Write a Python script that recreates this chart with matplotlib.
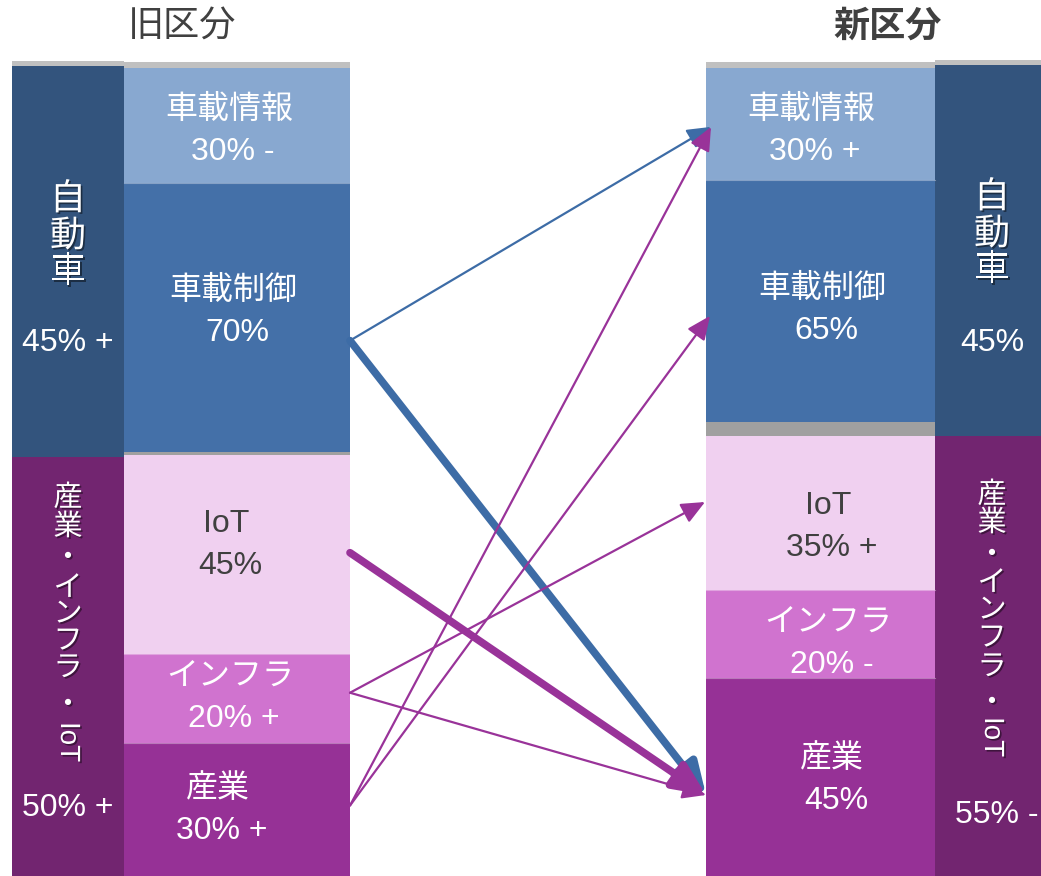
import matplotlib.pyplot as plt
import matplotlib.patheffects as pe

plt.rcParams['font.family'] = ['Liberation Sans', 'Noto Sans CJK JP', 'DejaVu Sans']

# data
old_auto = ['車載情報', '車載制御']
old_auto_val = [30, 70]
old_auto_txt = ['30% -', '70%']
old_ind = ['IoT', 'インフラ', '産業']
old_ind_val = [45, 20, 30]
old_ind_txt = ['45%', '20% +', '30% +']

new_auto = ['車載情報', '車載制御']
new_auto_val = [30, 65]
new_auto_txt = ['30% +', '65%']
new_ind = ['IoT', 'インフラ', '産業']
new_ind_val = [35, 20, 45]
new_ind_txt = ['35% +', '20% -', '45%']

outer_old_txt = ['45% +', '50% +']
outer_new_txt = ['45%', '55% -']

# flows: (from old, to new, thick?)
flow_from = ['車載制御', '車載制御', 'IoT', 'インフラ', 'インフラ', '産業', '産業']
flow_to = ['車載情報', '産業', '産業', 'IoT', '産業', '車載情報', '車載制御']
flow_thick = [False, True, True, False, False, False, False]

# colours
c_outer_auto = '#33547D'
c_outer_ind = '#722570'
c_inner = {'車載情報': '#88A8D0', '車載制御': '#4470A8', 'IoT': '#F0D0F0',
           'インフラ': '#D073CF', '産業': '#963196'}
c_txt = {'IoT': '#404040'}
c_blue = '#3D6CA6'
c_purple = '#993399'

fig = plt.figure(figsize=(10.41, 8.76), dpi=100)
ax = fig.add_axes([0, 0, 1, 1])
ax.set_xlim(0, 1041)
ax.set_ylim(876, 0)
ax.axis('off')


def stack(names, vals, x0, x1, y0, y1):
    tot = sum(vals)
    out = {}
    y = y0
    for n, v in zip(names, vals):
        h = (y1 - y0) * v / tot
        ax.bar(x0, h, width=x1 - x0, bottom=y, align='edge', color=c_inner[n], linewidth=0)
        if y > y0:
            ax.plot([x0, x1], [y, y], color='white', alpha=0.35, lw=0.8)
        out[n] = (y, y + h)
        y += h
    return out


# old side
ax.bar(12, 5, width=112, bottom=61, align='edge', color='#C0C0C0')
ax.bar(124, 6, width=226, bottom=62, align='edge', color='#C0C0C0')
ax.bar(12, 457 - 66, width=112, bottom=66, align='edge', color=c_outer_auto)
ax.bar(12, 876 - 457, width=112, bottom=457, align='edge', color=c_outer_ind)
ax.bar(124, 3, width=226, bottom=452, align='edge', color='#A0A0A0')
old_pos = stack(old_auto, old_auto_val, 124, 350, 68, 452)
old_pos.update(stack(old_ind, old_ind_val, 124, 350, 455, 876))

# new side
ax.bar(935, 5, width=106, bottom=60, align='edge', color='#C0C0C0')
ax.bar(706, 6, width=229, bottom=62, align='edge', color='#C0C0C0')
ax.bar(935, 436 - 65, width=106, bottom=65, align='edge', color=c_outer_auto)
ax.bar(935, 876 - 436, width=106, bottom=436, align='edge', color=c_outer_ind)
ax.bar(706, 14, width=229, bottom=422, align='edge', color='#A0A0A0')
new_pos = stack(new_auto, new_auto_val, 706, 935, 68, 422)
new_pos.update(stack(new_ind, new_ind_val, 706, 935, 436, 876))

# inner labels (dx, dy nudges from block centre)
old_nudge = {'車載情報': (-1, 5), '車載制御': (3, -6), 'IoT': (-4, -10),
             'インフラ': (0, -1), '産業': (-12, 0)}
new_nudge = {'車載情報': (-7, 7), '車載制御': (4, 9), 'IoT': (10, 14),
             'インフラ': (10, 10), '産業': (14, 3)}
for pos, names, txts, xc, nudge in [
        (old_pos, old_auto + old_ind, old_auto_txt + old_ind_txt, 232, old_nudge),
        (new_pos, new_auto + new_ind, new_auto_txt + new_ind_txt, 820, new_nudge)]:
    for n, t in zip(names, txts):
        dx, dy = nudge[n]
        yc = sum(pos[n]) / 2 + dy
        col = c_txt.get(n, 'white')
        ax.text(xc + dx - 2, yc - 21, n, ha='center', va='center', fontsize=23, color=col)
        ax.text(xc + dx + 2, yc + 21, t, ha='center', va='center', fontsize=23, color=col)

# titles
ax.text(182, 27, '旧区分', ha='center', va='center', fontsize=26, color='#404040')
ax.text(888, 27, '新区分', ha='center', va='center', fontsize=26, color='#404040',
        fontweight='bold')

shadow = [pe.SimplePatchShadow(offset=(1.2, -1.2), shadow_rgbFace='black', alpha=0.45), pe.Normal()]


# vertical outer labels
def vlabel(x, ys, chars, size):
    for y, ch in zip(ys, chars):
        ax.text(x, y, ch, ha='center', va='center', fontsize=size, color='white',
                path_effects=shadow)


vlabel(68, [200, 237, 273], '自動車', 26)
vlabel(992, [198, 235, 271], '自動車', 26)
vlabel(68, [498, 527, 558, 588, 614, 641, 668, 705], '産業・インフラ・', 21)
vlabel(992, [495, 523, 555, 583, 610, 638, 667, 703], '産業・インフラ・', 21)
ax.text(68, 742, 'IoT', rotation=-90, ha='center', va='center', fontsize=20, color='white',
        path_effects=shadow)
ax.text(992, 737, 'IoT', rotation=-90, ha='center', va='center', fontsize=20, color='white',
        path_effects=shadow)
ax.text(68, 343, outer_old_txt[0], ha='center', va='center', fontsize=23, color='white')
ax.text(68, 808, outer_old_txt[1], ha='center', va='center', fontsize=23, color='white')
ax.text(992, 343, outer_new_txt[0], ha='center', va='center', fontsize=23, color='white')
ax.text(997, 815, outer_new_txt[1], ha='center', va='center', fontsize=23, color='white')

# flows
start_off = {'車載制御': 23, 'IoT': -2, 'インフラ': -6, '産業': -4}
end_off = {'車載情報': 3, '車載制御': 15, 'IoT': -11, '産業': 18}
end_x = {'車載情報': 711, '車載制御': 710, 'IoT': 705, '産業': 706}
for f, t, thick in zip(flow_from, flow_to, flow_thick):
    col = c_blue if f == '車載制御' else c_purple
    y0 = sum(old_pos[f]) / 2 + start_off[f]
    y1 = sum(new_pos[t]) / 2 + end_off[t]
    if thick:
        style = '-|>,head_length=1.2,head_width=0.55'
        lw = 5.5
    else:
        style = '-|>,head_length=0.9,head_width=0.4'
        lw = 1.6
    ax.annotate('', xy=(end_x[t], y1), xytext=(350, y0),
                arrowprops=dict(arrowstyle=style, color=col, lw=lw,
                                shrinkA=0, shrinkB=0, mutation_scale=16))

fig.savefig('out.png', dpi=100)
